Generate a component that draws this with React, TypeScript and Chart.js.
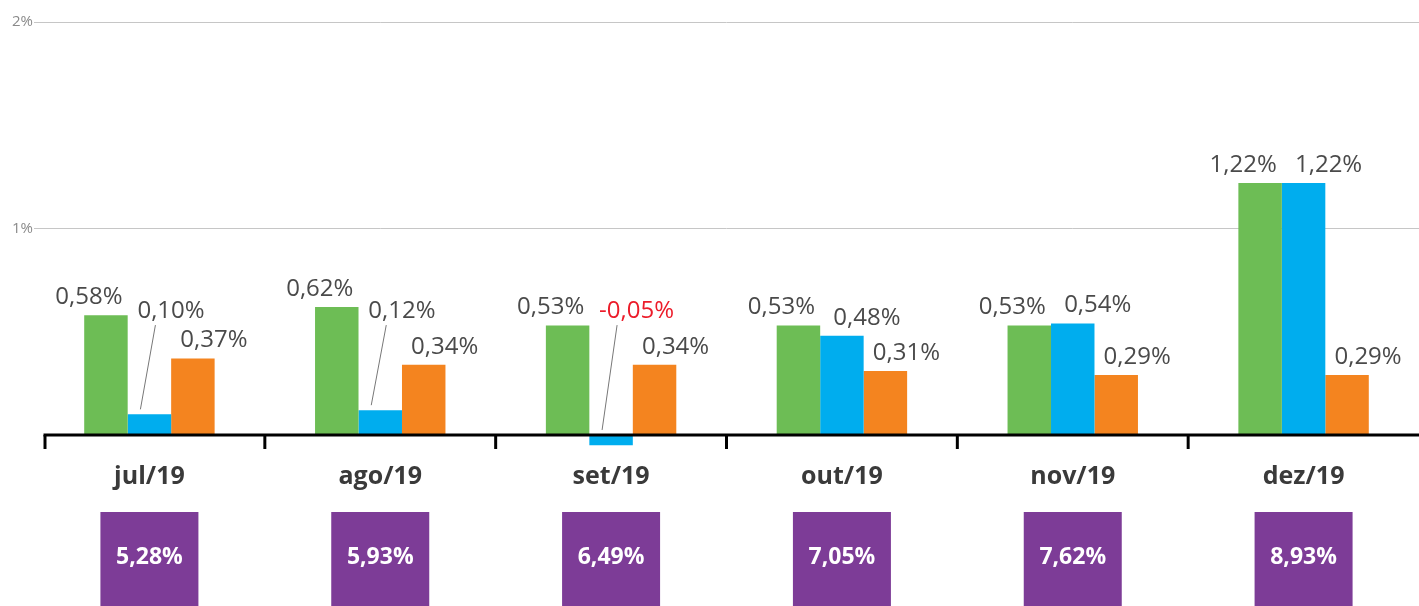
import React, { useEffect, useRef } from "react";
import { Chart, registerables } from "chart.js";

Chart.register(...registerables);

const categories = ["jul/19", "ago/19", "set/19", "out/19", "nov/19", "dez/19"];
const greenValues = [0.58, 0.62, 0.53, 0.53, 0.53, 1.22];
const blueValues = [0.1, 0.12, -0.05, 0.48, 0.54, 1.22];
const orangeValues = [0.37, 0.34, 0.34, 0.31, 0.29, 0.29];
const accumulated = [5.28, 5.93, 6.49, 7.05, 7.62, 8.93];

const GREEN = "#6dbd55";
const BLUE = "#00adee";
const ORANGE = "#f4841f";
const PURPLE = "#7d3c97";
const LABEL = "#4a4a4a";
const RED = "#ec1c2a";
const FONT = "'Open Sans', 'DejaVu Sans', sans-serif";

const fmt = (v: number) => v.toFixed(2).replace(".", ",") + "%";

const overlayPlugin = {
  id: "overlay",
  afterDatasetsDraw(chart: any) {
    const ctx = chart.ctx;
    const x = chart.scales.x;
    const y = chart.scales.y;
    const area = chart.chartArea;
    const y0 = y.getPixelForValue(0);
    const catW = x.width / categories.length;
    const axisStart = area.left + 11;
    ctx.save();
    // zero axis line
    ctx.strokeStyle = "#000";
    ctx.lineWidth = 3;
    ctx.beginPath();
    ctx.moveTo(axisStart - 1.5, y0);
    ctx.lineTo(area.right, y0);
    ctx.stroke();
    // boundary ticks
    categories.forEach((_, j) => {
      const bx = Math.max(axisStart, x.getPixelForValue(j) - catW / 2);
      ctx.beginPath();
      ctx.moveTo(bx, y0);
      ctx.lineTo(bx, y0 + 14);
      ctx.stroke();
    });

    // data labels
    const offsets = [-17, 25, 21];
    ctx.font = `400 24px ${FONT}`;
    chart.data.datasets.forEach((ds: any, i: number) => {
      const meta = chart.getDatasetMeta(i);
      meta.data.forEach((bar: any, j: number) => {
        const v = ds.data[j];
        ctx.fillStyle = v < 0 ? RED : LABEL;
        if (i === 1 && Math.abs(v) < 0.2) {
          const ly = y.getPixelForValue(0.6);
          ctx.textAlign = "left";
          ctx.textBaseline = "middle";
          ctx.fillText(fmt(v), bar.x - 12, ly);
          ctx.strokeStyle = "#777";
          ctx.lineWidth = 1;
          ctx.beginPath();
          ctx.moveTo(bar.x - 9, Math.min(bar.y, bar.base) - 5);
          ctx.lineTo(bar.x + 6, ly + 14);
          ctx.stroke();
        } else {
          ctx.textAlign = "center";
          ctx.textBaseline = "middle";
          ctx.fillText(fmt(v), bar.x + offsets[i], Math.min(bar.y, bar.base) - 18);
        }
      });
    });

    // category labels and accumulated boxes
    categories.forEach((c, j) => {
      const cx = x.getPixelForValue(j);
      ctx.fillStyle = "#3a3a3a";
      ctx.font = `bold 25px ${FONT}`;
      ctx.textAlign = "center";
      ctx.textBaseline = "middle";
      ctx.fillText(c, cx, 477);
      ctx.fillStyle = PURPLE;
      ctx.fillRect(cx - 49, 512, 98, 100);
      ctx.fillStyle = "#fff";
      ctx.font = `bold 23px ${FONT}`;
      ctx.fillText(fmt(accumulated[j]), cx, 557);
    });
    ctx.restore();
  },
};

export default function App() {
  const ref = useRef<HTMLCanvasElement>(null);
  useEffect(() => {
    document.body.style.margin = "0";
    document.body.style.overflow = "hidden";
    const chart = new Chart(ref.current!, {
      type: "bar",
      data: {
        labels: categories,
        datasets: [
          { data: greenValues, backgroundColor: GREEN },
          { data: blueValues, backgroundColor: BLUE },
          { data: orangeValues, backgroundColor: ORANGE },
        ],
      },
      options: {
        responsive: false,
        animation: false,
        layout: { padding: { top: 22, bottom: 154.5, right: 0, left: 0 } },
        datasets: {
          bar: { categoryPercentage: 0.565, barPercentage: 1.0 },
        } as any,
        plugins: {
          legend: { display: false },
          tooltip: { enabled: false },
        },
        scales: {
          x: { display: false },
          y: {
            min: -0.08,
            max: 2,
            afterFit: (s: any) => {
              s.width = 34;
            },
            border: { display: false },
            grid: {
              drawTicks: false,
              lineWidth: 1,
              color: (c: any) => (c.tick && c.tick.value > 0 ? "#c6c6c6" : "rgba(0,0,0,0)"),
            },
            ticks: {
              stepSize: 1,
              padding: 1,
              color: "#8a8a8a",
              font: { family: FONT, size: 15, weight: 400 as any },
              callback: (v: any) => (v > 0 ? v + "%" : ""),
            },
          },
        },
      },
      plugins: [overlayPlugin],
    });
    return () => chart.destroy();
  }, []);
  return (
    <div style={{ width: 1419, height: 606 }}>
      <canvas ref={ref} width={1419} height={606} />
    </div>
  );
}
